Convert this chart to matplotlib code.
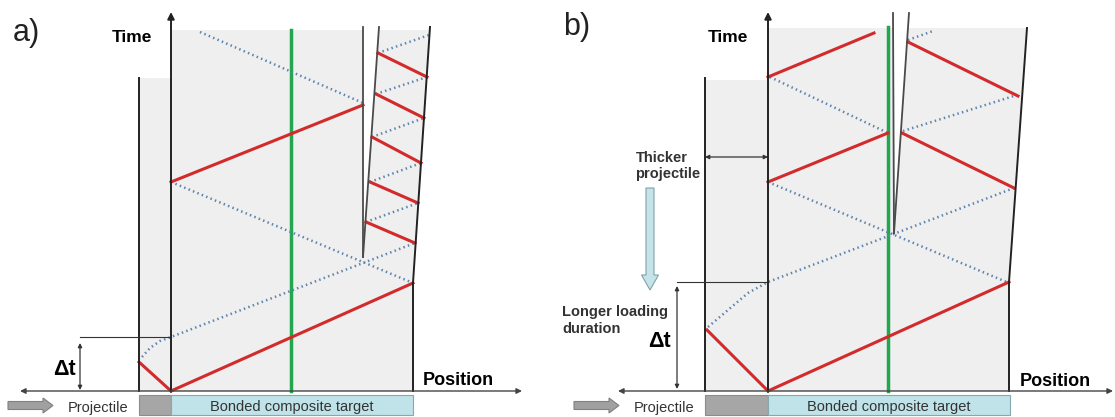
import matplotlib
matplotlib.use('Agg')
import matplotlib.pyplot as plt
from matplotlib.patches import Rectangle, FancyArrow

plt.rcParams['font.family'] = ['Liberation Sans', 'DejaVu Sans']

# ---- panel a: wave diagram (pixel coordinates) ----
a_fill_target = [(171, 30), (430, 30), (413, 283), (413, 391), (171, 391)]
a_fill_proj = [(139, 78), (171, 78), (171, 391), (139, 391)]
a_gap = [(363, 30), (379, 30), (363, 257)]
a_right_edge = [(430, 27), (413, 283), (413, 391)]
a_crack = [[(363, 27), (363, 257)], [(379, 27), (363, 257)]]
a_green_x = 291
a_red = [
    [(139, 362), (171, 391), (413, 283)],
    [(171, 182), (363, 105)],
    [(366, 222), (415, 243)],
    [(370, 182), (418, 203)],
    [(372, 137), (421, 163)],
    [(376, 94), (424, 118)],
    [(378, 53), (427, 77)],
]
a_dotted = [
    [(142, 357), (150, 348), (160, 341), (171, 337), (415, 243)],
    [(171, 182), (413, 283)],
    [(200, 32), (363, 103)],
    [(366, 222), (418, 203)],
    [(370, 182), (421, 163)],
    [(372, 137), (424, 118)],
    [(376, 94), (427, 77)],
    [(378, 53), (429, 35)],
]

# ---- panel b ----
b_fill_target = [(768, 28), (1027, 28), (1009, 282), (1009, 391), (768, 391)]
b_fill_proj = [(705, 80), (768, 80), (768, 391), (705, 391)]
b_gap = [(893, 28), (909, 28), (894, 233)]
b_right_edge = [(1027, 28), (1009, 282), (1009, 391)]
b_crack = [[(893, 13), (894, 233)], [(909, 13), (894, 233)]]
b_green_x = 888
b_red = [
    [(707, 330), (768, 391), (1009, 282)],
    [(768, 182), (888, 133)],
    [(902, 133), (1014, 188)],
    [(768, 77), (874, 33)],
    [(908, 42), (1018, 96)],
]
b_dotted = [
    [(708, 327), (728, 310), (748, 293), (768, 282), (1014, 188)],
    [(768, 182), (1009, 283)],
    [(770, 77), (888, 133)],
    [(903, 131), (1017, 95)],
    [(908, 40), (933, 31)],
]

RED = '#d32a2b'
BLUE_DOT = '#5f84ad'
GREEN = '#22a64e'
FILL = '#efefef'
LINE = '#222222'

fig = plt.figure(figsize=(11.15, 4.17), dpi=100)
ax = fig.add_axes([0, 0, 1, 1])
ax.set_xlim(0, 1115)
ax.set_ylim(417, 0)
ax.axis('off')


def xy(pts):
    return [p[0] for p in pts], [p[1] for p in pts]


def panel(fill_t, fill_p, gap, right_edge, crack, green_x, green_top, reds, dots,
          proj_x, axis_x, proj_top, x_left, x_right, box_right):
    ax.fill(*xy(fill_t), color=FILL, lw=0, zorder=1)
    ax.fill(*xy(fill_p), color=FILL, lw=0, zorder=1)
    ax.fill(*xy(gap), color='white', lw=0, zorder=1)
    ax.plot([green_x, green_x], [green_top, 391], color=GREEN, lw=2.5, zorder=3)
    for seg in dots:
        ax.plot(*xy(seg), color=BLUE_DOT, lw=1.8, ls=(0, (0.6, 1.3)), zorder=4)
    for seg in reds:
        ax.plot(*xy(seg), color=RED, lw=2.2, zorder=5)
    ax.plot(*xy(right_edge), color=LINE, lw=1.4, zorder=6)
    for c in crack:
        ax.plot(*xy(c), color='#4a4a4a', lw=1.3, zorder=6)
    ax.plot([proj_x, proj_x], [proj_top, 391], color=LINE, lw=1.4, zorder=6)
    # time axis
    ax.annotate('', xy=(axis_x, 12), xytext=(axis_x, 392),
                arrowprops=dict(arrowstyle='-|>', color=LINE, lw=1.4,
                                mutation_scale=10, shrinkA=0, shrinkB=0), zorder=7)
    # position axis
    ax.annotate('', xy=(x_right, 391), xytext=(x_left, 391),
                arrowprops=dict(arrowstyle='<|-|>', color='#444444', lw=1.0,
                                mutation_scale=8, shrinkA=0, shrinkB=0), zorder=7)
    # bottom boxes
    ax.add_patch(Rectangle((proj_x, 395), axis_x - proj_x, 20, fc='#a6a6a6',
                           ec='#8c8c8c', lw=0.8, zorder=2))
    ax.add_patch(Rectangle((axis_x, 395), box_right - axis_x, 20, fc='#bfe3e8',
                           ec='#86a9ad', lw=0.8, zorder=2))
    ax.text((axis_x + box_right) / 2, 411, 'Bonded composite target', fontsize=10.5,
            ha='center', va='baseline', color='#333333')
    ax.add_patch(FancyArrow(proj_x - 131, 405.5, 45, 0, width=8, head_width=15,
                            head_length=10, length_includes_head=True,
                            fc='#a0a0a0', ec='#808080', lw=0.8, zorder=3))
    ax.text(proj_x - 71, 412, 'Projectile', fontsize=10.5, ha='left',
            va='baseline', color='#333333')


panel(a_fill_target, a_fill_proj, a_gap, a_right_edge, a_crack, a_green_x, 30,
      a_red, a_dotted, 139, 171, 78, 20, 522, 413)
panel(b_fill_target, b_fill_proj, b_gap, b_right_edge, b_crack, b_green_x, 27,
      b_red, b_dotted, 705, 768, 78, 618, 1113, 1010)

# labels panel a
ax.text(13, 41, 'a)', fontsize=22, va='baseline', color='#222222')
ax.text(112, 42, 'Time', fontsize=12.5, fontweight='bold', va='baseline')
ax.text(423, 385, 'Position', fontsize=13, fontweight='bold', va='baseline')
ax.plot([80, 171], [337, 337], color='#333333', lw=0.8, zorder=6)
ax.annotate('', xy=(80, 343), xytext=(80, 390),
            arrowprops=dict(arrowstyle='<|-|>', color='#333333', lw=0.9,
                            mutation_scale=6, shrinkA=0, shrinkB=0))
ax.text(53, 375, 'Δt', fontsize=15.5, fontweight='bold', va='baseline')

# labels panel b
ax.text(563, 35, 'b)', fontsize=22, va='baseline', color='#222222')
ax.text(708, 42, 'Time', fontsize=12.5, fontweight='bold', va='baseline')
ax.text(1020, 386, 'Position', fontsize=13, fontweight='bold', va='baseline')
ax.annotate('', xy=(705, 157), xytext=(768, 157),
            arrowprops=dict(arrowstyle='<|-|>', color='#333333', lw=0.9,
                            mutation_scale=6, shrinkA=0, shrinkB=0), zorder=8)
ax.text(636, 162, 'Thicker', fontsize=10.5, fontweight='bold', va='baseline',
        color='#333333')
ax.text(635, 178, 'projectile', fontsize=10.5, fontweight='bold', va='baseline',
        color='#333333')
ax.add_patch(FancyArrow(650, 188, 0, 102, width=8, head_width=17, head_length=15,
                        length_includes_head=True, fc='#c5e3e8', ec='#7fa3a8',
                        lw=0.8, zorder=3))
ax.plot([677, 768], [282, 282], color='#333333', lw=0.8, zorder=6)
ax.annotate('', xy=(677, 286), xytext=(677, 389),
            arrowprops=dict(arrowstyle='<|-|>', color='#333333', lw=0.9,
                            mutation_scale=6, shrinkA=0, shrinkB=0))
ax.text(562, 316, 'Longer loading', fontsize=10.5, fontweight='bold',
        va='baseline', color='#333333')
ax.text(562, 333, 'duration', fontsize=10.5, fontweight='bold', va='baseline',
        color='#333333')
ax.text(648, 347, 'Δt', fontsize=15.5, fontweight='bold', va='baseline')

fig.savefig('out.png', dpi=100)
